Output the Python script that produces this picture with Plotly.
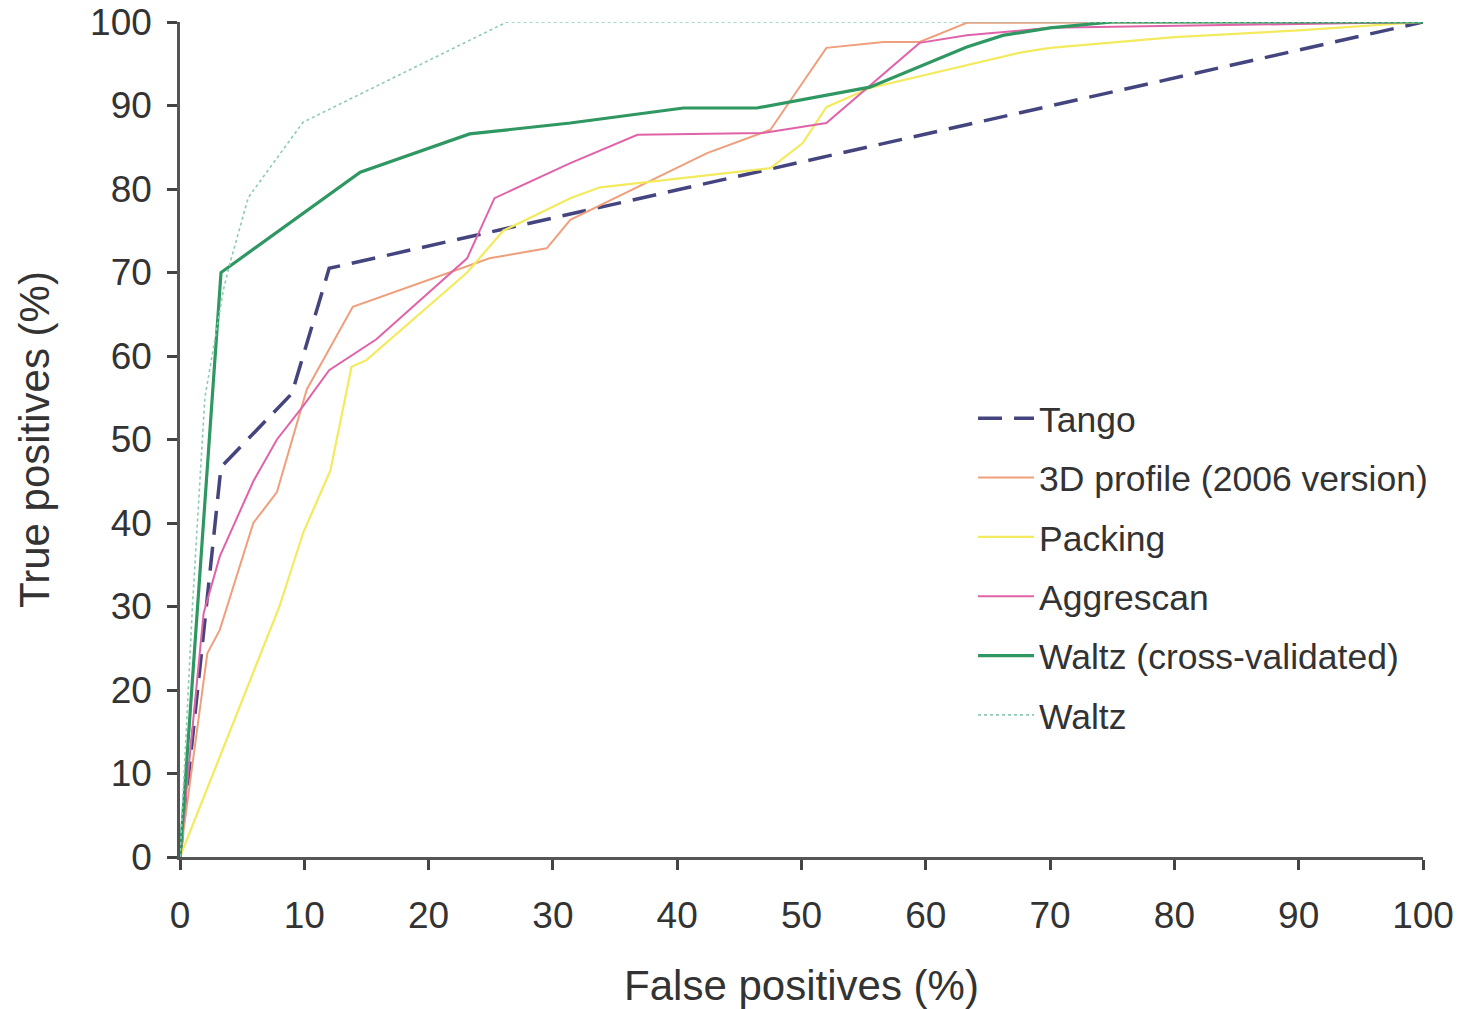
import plotly.graph_objects as go

# ---- data ----
tango_x = [0, 3.3, 9, 12, 100]
tango_y = [0, 46.7, 55.5, 70.5, 100]

profile3d_x = [0, 2.2, 3.2, 5.9, 7.8, 10.2, 13.9, 24.9, 29.5, 31.4, 42.4, 47.5, 52, 56.6, 59.5, 63.3, 100]
profile3d_y = [0, 24.4, 27.2, 40, 43.7, 56, 65.9, 71.7, 72.9, 76.3, 84.3, 87.1, 96.9, 97.6, 97.6, 99.9, 100]

packing_x = [0, 3.5, 8, 9.9, 12.1, 13.8, 15, 23.1, 26, 31.4, 33.8, 47.5, 50.1, 52, 55.5, 67.8, 70, 80, 90, 100]
packing_y = [0, 13.2, 30, 38.8, 46.3, 58.7, 59.5, 70, 75, 78.9, 80.2, 82.5, 85.5, 89.8, 92.1, 96.4, 96.9, 98.2, 99, 100]

aggrescan_x = [0, 1.9, 3.2, 5.9, 7.8, 9.9, 12, 15.8, 23.1, 25.3, 31.4, 36.8, 46.9, 52, 59.5, 63.3, 70, 100]
aggrescan_y = [0, 29.2, 36, 45, 50, 54, 58.3, 62, 71.7, 78.9, 83.1, 86.5, 86.7, 87.9, 97.5, 98.4, 99.3, 100]

waltz_cv_x = [0, 3.3, 14.5, 23.3, 31.4, 40.5, 46.4, 55.5, 63.3, 66.2, 70, 75, 100]
waltz_cv_y = [0, 70, 82, 86.6, 87.9, 89.7, 89.7, 92.2, 97, 98.4, 99.3, 100, 100]

waltz_x = [0, 1, 2, 3.5, 4, 5.5, 9.9, 26.3, 100]
waltz_y = [0, 30, 55, 68, 71, 79, 88, 100, 100]

x_ticks = [0, 10, 20, 30, 40, 50, 60, 70, 80, 90, 100]
y_ticks = [0, 10, 20, 30, 40, 50, 60, 70, 80, 90, 100]

series = [
    ("Tango", tango_x, tango_y, "#44457e", 3.5, "24px,12px"),
    ("3D profile (2006 version)", profile3d_x, profile3d_y, "#ef9f7c", 2, "solid"),
    ("Packing", packing_x, packing_y, "#f3ea5d", 2.2, "solid"),
    ("Aggrescan", aggrescan_x, aggrescan_y, "#e063a9", 2, "solid"),
    ("Waltz (cross-validated)", waltz_cv_x, waltz_cv_y, "#2f9762", 3.2, "solid"),
    ("Waltz", waltz_x, waltz_y, "#8ccab3", 1.6, "dot"),
]

FONT = "Liberation Sans, Arial, Helvetica, sans-serif"

fig = go.Figure()
for i, (name, xs, ys, col, w, dash) in enumerate(series):
    fig.add_trace(go.Scatter(
        x=xs, y=ys, mode="lines", name=name,
        line=dict(color=col, width=w, dash=dash),
        legendgroup=f"g{i}", cliponaxis=False,
    ))

fig.update_layout(
    width=1459, height=1009,
    margin=dict(l=180, r=36, t=22, b=152, autoexpand=False),
    paper_bgcolor="white", plot_bgcolor="white",
    font=dict(family=FONT, color="#333333", size=37),
    showlegend=True,
    legend=dict(
        x=0.638, y=0.561, xanchor="left", yanchor="top",
        font=dict(size=35.5, color="#333333", family=FONT),
        traceorder="grouped", tracegroupgap=10.2,
        itemwidth=56, bgcolor="rgba(0,0,0,0)",
    ),
    xaxis=dict(
        range=[0, 100], tickvals=x_ticks, ticktext=[str(v) for v in x_ticks],
        automargin=False, ticklabeloverflow="allow",
        showgrid=False, zeroline=False, showline=True, linecolor="#555555", linewidth=2.5,
        ticks="outside", ticklen=10, tickwidth=2.5, tickcolor="#444444",
        ticklabelstandoff=14,
        tickfont=dict(size=37, color="#333333"),
        title=dict(text="False positives (%)", font=dict(size=42, color="#333333"), standoff=43),
    ),
    yaxis=dict(
        range=[0, 100], tickvals=y_ticks, ticktext=[str(v) for v in y_ticks],
        automargin=False, ticklabeloverflow="allow",
        showgrid=False, zeroline=False, showline=True, linecolor="#555555", linewidth=2.5,
        ticks="outside", ticklen=10, tickwidth=2.5, tickcolor="#444444",
        ticklabelstandoff=8,
        tickfont=dict(size=37, color="#333333"),
        title=dict(text="True positives (%)", font=dict(size=42, color="#333333"), standoff=28),
    ),
)

# remove the browser's default 8px body margin so the figure fills the window
fig.write_html(
    "out.html",
    config={"displayModeBar": False},
    post_script="document.body.style.margin='0px';",
)
